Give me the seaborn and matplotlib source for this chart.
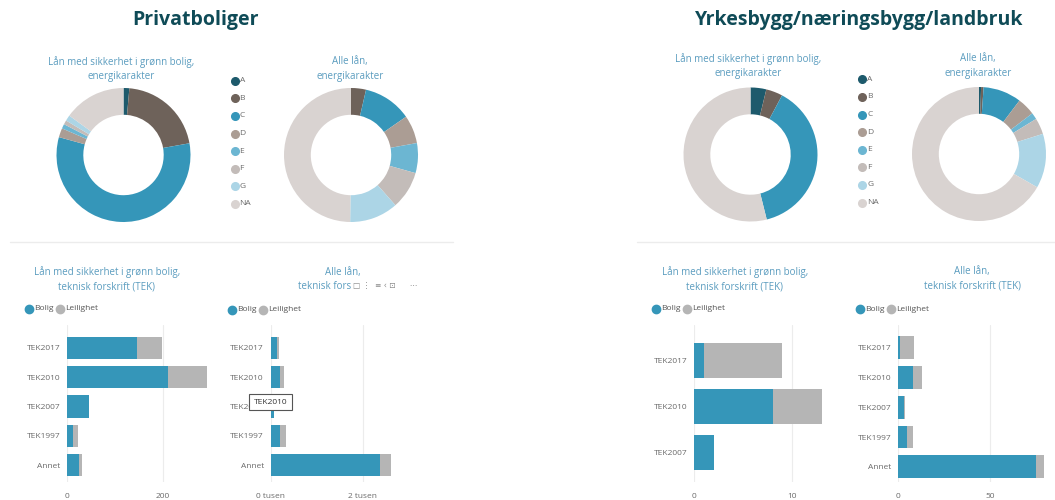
import numpy as np
import pandas as pd
import matplotlib
matplotlib.use("Agg")
import matplotlib.pyplot as plt
import seaborn as sns
from matplotlib.lines import Line2D
from matplotlib.patches import Rectangle

# energy grades (donuts)
grades = ["A", "B", "C", "D", "E", "F", "G", "NA"]
grade_colors = ["#1d5a6c", "#6e625a", "#3596b9", "#ab9d94", "#6cb6d2",
                "#c3bcb9", "#acd5e6", "#d9d3d1"]
priv_gronn = [1.4, 20.8, 57.1, 2.2, 1.1, 1.0, 1.4, 15.0]
priv_alle = [0.0, 3.6, 11.7, 6.8, 7.2, 9.1, 11.7, 49.7]
naer_gronn = [3.8, 4.0, 38.3, 0.0, 0.0, 0.0, 0.0, 53.9]
naer_alle = [0.5, 0.6, 9.2, 4.3, 1.6, 3.9, 13.1, 66.6]

# TEK bars
tek5 = ["TEK2017", "TEK2010", "TEK2007", "TEK1997", "Annet"]
tek3 = ["TEK2017", "TEK2010", "TEK2007"]
priv_gronn_bolig = [146, 212, 47, 12, 26]
priv_gronn_leil = [52, 81, 0, 10, 6]
priv_alle_bolig = [137, 210, 72, 202, 2383]
priv_alle_leil = [50, 73, 0, 124, 226]
naer_gronn_bolig = [1, 8, 2]
naer_gronn_leil = [8, 5, 0]
naer_alle_bolig = [1.1, 8.0, 2.9, 4.7, 74.9]
naer_alle_leil = [7.6, 4.7, 0.9, 3.1, 4.7]

BOLIG = "#3596b9"
LEIL = "#b5b5b5"
TITLE_C = "#0f4b57"
SUB_C = "#5a9cbf"
TXT_C = "#6a6a6a"

sns.set_style("white")
plt.rcParams["font.family"] = ["Open Sans", "DejaVu Sans"]

W, H = 1055, 500
fig = plt.figure(figsize=(W / 100, H / 100), dpi=100)


def px_axes(x0, y0, x1, y1):
    return fig.add_axes([x0 / W, 1 - y1 / H, (x1 - x0) / W, (y1 - y0) / H])


def ftext(x, y, s, **kw):
    fig.text(x / W, 1 - y / H, s, **kw)


# main titles
ftext(195, 20, "Privatboliger", ha="center", va="center", fontsize=14,
      fontweight="bold", color=TITLE_C)
ftext(859, 20, "Yrkesbygg/næringsbygg/landbruk", ha="center", va="center",
      fontsize=14, fontweight="bold", color=TITLE_C)

# separators
fig.add_artist(Line2D([10 / W, 453 / W], [1 - 242 / H] * 2, color="#ececec", lw=1))
fig.add_artist(Line2D([637 / W, 1.0], [1 - 242 / H] * 2, color="#ececec", lw=1))


def donut(cx, cy, vals, r=67):
    ax = px_axes(cx - r, cy - r, cx + r, cy + r)
    ax.pie(vals, colors=grade_colors, startangle=90, counterclock=False,
           radius=1, wedgeprops=dict(width=0.4, linewidth=0))
    ax.set_xlim(-1, 1)
    ax.set_ylim(-1, 1)
    ax.axis("off")


def grade_legend(x, y0, step=17.6):
    for i, (g, c) in enumerate(zip(grades, grade_colors)):
        y = y0 + i * step
        fig.add_artist(Line2D([x / W], [1 - y / H], marker="o", markersize=5.5,
                              color=c, linestyle="none"))
        ftext(x + 5, y, g, ha="left", va="center", fontsize=6, color=TXT_C)


def sub2(cx, y, s):
    ftext(cx, y, s, ha="center", va="center", fontsize=7, color=SUB_C,
          linespacing=1.45)


# donut subtitles
sub2(121, 69, "Lån med sikkerhet i grønn bolig,\nenergikarakter")
sub2(350, 69, "Alle lån,\nenergikarakter")
sub2(748, 66, "Lån med sikkerhet i grønn bolig,\nenergikarakter")
sub2(978, 66, "Alle lån,\nenergikarakter")

donut(123.5, 155, priv_gronn)
donut(351, 155, priv_alle)
donut(750.5, 154.5, naer_gronn)
donut(979, 154, naer_alle)

grade_legend(234.5, 80.7)
grade_legend(862, 79.3)


def bar_legend(x, y):
    fig.add_artist(Line2D([x / W], [1 - y / H], marker="o", markersize=6,
                          color=BOLIG, linestyle="none"))
    ftext(x + 5, y, "Bolig", ha="left", va="center", fontsize=6, color="#555555")
    fig.add_artist(Line2D([(x + 31) / W], [1 - y / H], marker="o", markersize=6,
                          color=LEIL, linestyle="none"))
    ftext(x + 36, y, "Leilighet", ha="left", va="center", fontsize=6, color="#555555")


def tek_bars(rect, cats, bolig, leil, xmax, ylim, ticks, ticklabels):
    ax = px_axes(*rect)
    total = [b + l for b, l in zip(bolig, leil)]
    df = pd.DataFrame({"cat": cats, "total": total, "bolig": bolig})
    sns.barplot(data=df, x="total", y="cat", orient="h", color=LEIL,
                saturation=1, width=0.76, ax=ax, linewidth=0)
    sns.barplot(data=df, x="bolig", y="cat", orient="h", color=BOLIG,
                saturation=1, width=0.76, ax=ax, linewidth=0)
    ax.set_xlim(0, xmax)
    ax.set_ylim(*ylim)
    ax.set_xticks(ticks)
    ax.set_xticklabels(ticklabels)
    ax.set_xlabel("")
    ax.set_ylabel("")
    ax.xaxis.grid(True, color="#ececec", lw=0.8)
    ax.set_axisbelow(True)
    sns.despine(ax=ax, left=True, bottom=True)
    ax.tick_params(axis="x", length=0, pad=8, labelsize=6, labelcolor=TXT_C)
    ax.tick_params(axis="y", length=0, pad=5, labelsize=6, labelcolor=TXT_C)
    return ax


# bar subtitles
sub2(107, 279, "Lån med sikkerhet i grønn bolig,\nteknisk forskrift (TEK)")
ftext(343, 272, "Alle lån,", ha="center", va="center", fontsize=7, color=SUB_C)
ftext(297.7, 286.7, "teknisk fors", ha="left", va="center", fontsize=7, color=SUB_C)
ftext(353, 285.5, "□ ⋮  ≡ ‹ ⊡      ⋯", ha="left", va="center", fontsize=5.5,
      color="#8a8a8a", family=["DejaVu Sans"])
sub2(735, 279, "Lån med sikkerhet i grønn bolig,\nteknisk forskrift (TEK)")
sub2(972, 279, "Alle lån,\nteknisk forskrift (TEK)")

bar_legend(29.3, 309)
bar_legend(232.3, 309.5)
bar_legend(655.7, 308.7)
bar_legend(860, 309.3)

tek_bars((67, 325, 215, 482), tek5, priv_gronn_bolig, priv_gronn_leil,
         309.3, (4.568, -0.772), [0, 200], ["0", "200"])
tek_bars((270.7, 325, 395, 482), tek5, priv_alle_bolig, priv_alle_leil,
         2702, (4.568, -0.772), [0, 2000], ["0 tusen", "2 tusen"])
tek_bars((694.3, 325, 825, 482), tek3, naer_gronn_bolig, naer_gronn_leil,
         13.34, (2.637, -0.776), [0, 10], ["0", "10"])
tek_bars((898.3, 325, 1050, 482), tek5, naer_alle_bolig, naer_alle_leil,
         82.7, (4.51, -0.76), [0, 50], ["0", "50"])

# hover tooltip
fig.add_artist(Rectangle((249.3 / W, 1 - 410 / H), 42.7 / W, 16 / H,
                         facecolor="white", edgecolor="#555555", lw=0.8,
                         zorder=10))
ftext(270.7, 402, "TEK2010", ha="center", va="center", fontsize=6,
      color="#333333", zorder=11)

fig.savefig("out.png", dpi=100)
